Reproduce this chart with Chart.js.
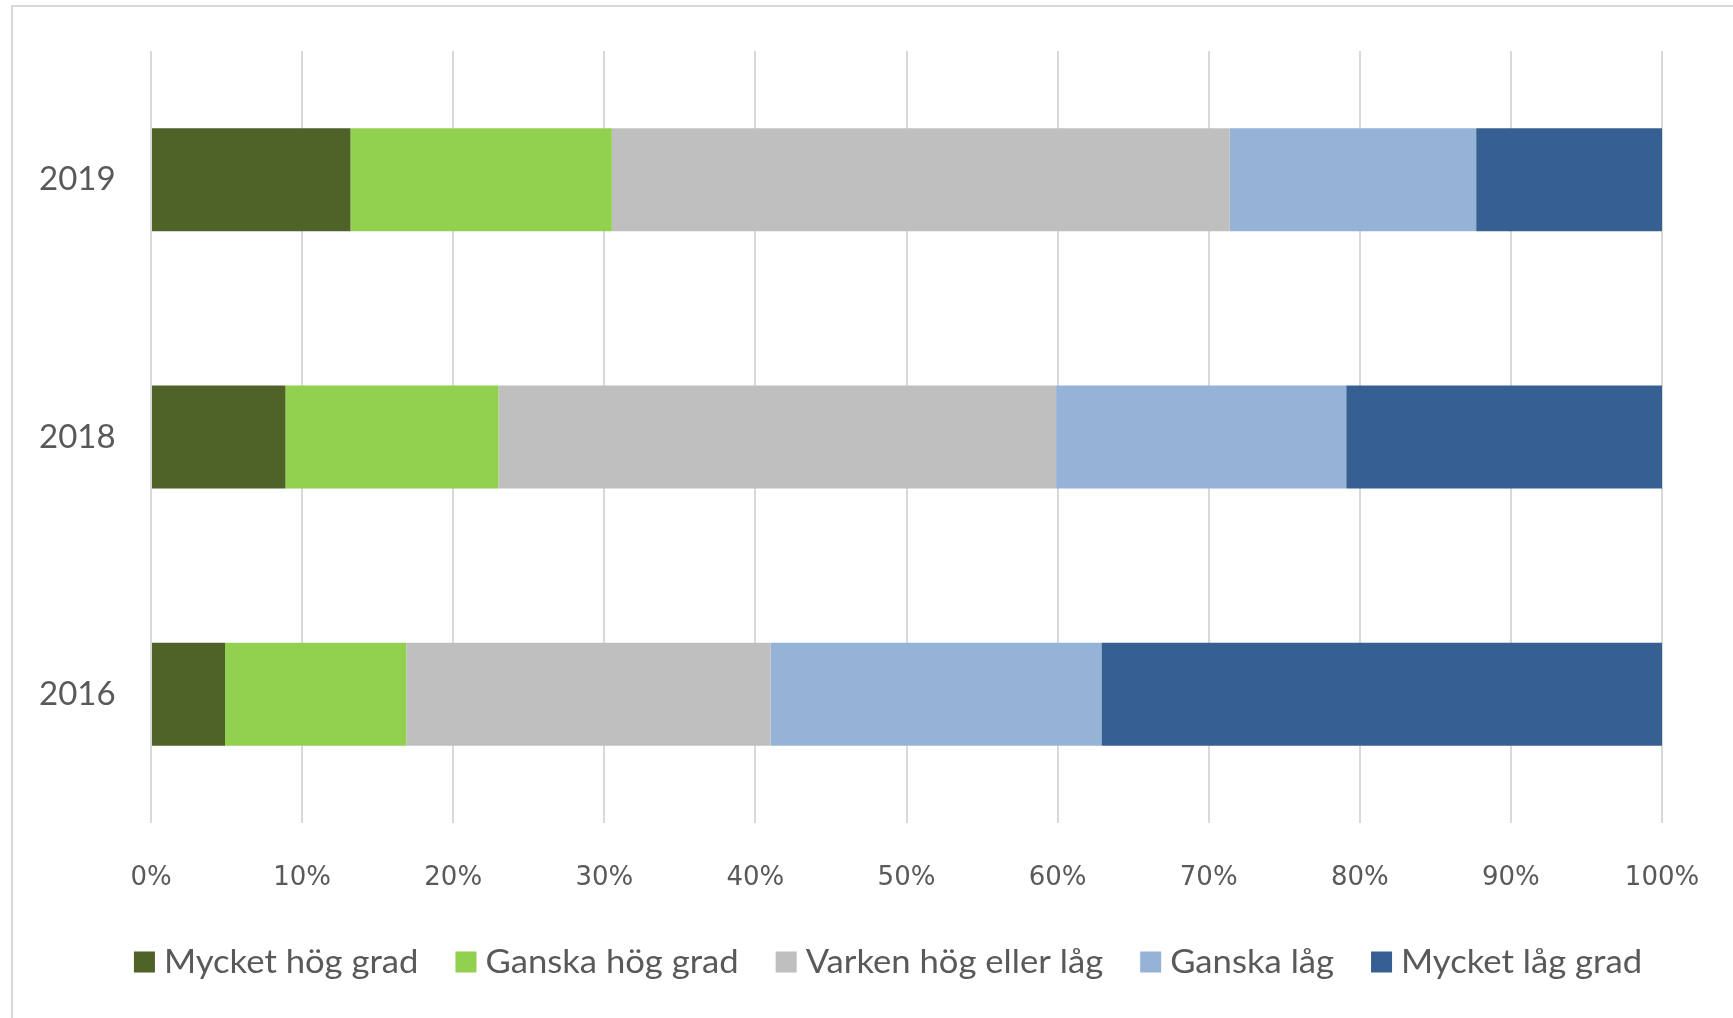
<!DOCTYPE html>
<html>
<head>
<meta charset="utf-8">
<script src="https://cdn.jsdelivr.net/npm/chart.js@4.4.1/dist/chart.umd.min.js"></script>
<style>
  html, body { margin: 0; padding: 0; background: #fff; }
  #wrap { position: relative; width: 1733px; height: 1018px; overflow: hidden; }
  #frame { position: absolute; left: 11px; top: 5px; width: 1800px; height: 1100px;
           border-left: 2px solid #d9d9d9; border-top: 2px solid #d9d9d9; }
  #chart { position: absolute; left: 0; top: 0; }
</style>
</head>
<body>
<div id="wrap">
  <div id="frame"></div>
  <canvas id="chart" width="1733" height="1018"></canvas>
</div>
<script>
// data
const years = ["2019", "2018", "2016"];
const seriesNames = ["Mycket hög grad", "Ganska hög grad", "Varken hög eller låg", "Ganska låg", "Mycket låg grad"];
const mycketHog = [13.2, 8.9, 4.9];
const ganskaHog = [17.3, 14.1, 12.0];
const varken = [40.9, 36.9, 24.1];
const ganskaLag = [16.3, 19.2, 21.9];
const mycketLag = [12.3, 20.9, 37.1];
const colors = ["#4F6228", "#92D050", "#BFBFBF", "#95B3D7", "#366092"];

const values = [mycketHog, ganskaHog, varken, ganskaLag, mycketLag];
const textColor = "#595959";

// legend in one row, a bit stretched like the original (excel look)
const bottomLegend = {
  id: "bottomLegend",
  afterDraw(chart) {
    const ctx = chart.ctx;
    const sx = 1.05, box = 21, gap = 9, space = 37;
    const cy = 962, cx = 888;
    ctx.save();
    ctx.font = "33px Lato";
    ctx.textBaseline = "middle";
    const items = chart.data.datasets.map((ds) => ({
      text: ds.label,
      color: ds.backgroundColor,
      w: ctx.measureText(ds.label).width * sx,
    }));
    let total = items.reduce((a, it) => a + box + gap + it.w, 0) + space * (items.length - 1);
    let x = cx - total / 2;
    items.forEach((it) => {
      ctx.fillStyle = it.color;
      ctx.fillRect(x, cy - box / 2, box, box);
      x += box + gap;
      ctx.save();
      ctx.translate(x, cy);
      ctx.scale(sx, 1);
      ctx.fillStyle = textColor;
      ctx.fillText(it.text, 0, 0);
      ctx.restore();
      x += it.w + space;
    });
    ctx.restore();
  },
};

document.addEventListener("DOMContentLoaded", function () {
  const ctx = document.getElementById("chart");
  new Chart(ctx, {
    type: "bar",
    data: {
      labels: years,
      datasets: seriesNames.map((name, i) => ({
        label: name,
        data: values[i],
        backgroundColor: colors[i],
        borderWidth: 0,
        categoryPercentage: 1,
        barPercentage: 0.4,
      })),
    },
    options: {
      indexAxis: "y",
      responsive: false,
      animation: false,
      layout: { padding: { top: 51, right: 71, left: 39, bottom: 109 } },
      scales: {
        x: {
          stacked: true,
          min: 0,
          max: 100,
          // invisible tick marks push the labels down without widening the side padding
          grid: { color: "#d9d9d9", lineWidth: 2, drawTicks: true, tickLength: 37, tickColor: "rgba(0,0,0,0)" },
          border: { display: false },
          ticks: {
            stepSize: 10,
            padding: 3,
            color: textColor,
            font: { family: "DejaVu Sans", size: 26 },
            callback: (v) => v + "%",
          },
          afterFit: (s) => { s.height = 86; },
        },
        y: {
          stacked: true,
          grid: { display: false, drawTicks: false },
          border: { display: false },
          ticks: {
            padding: 0,
            crossAlign: "far",
            color: textColor,
            font: { family: "Lato", size: 33 },
          },
          afterFit: (s) => { s.width = 112; },
        },
      },
      plugins: {
        legend: { display: false },
        tooltip: { enabled: false },
      },
    },
    plugins: [bottomLegend],
  });
});
</script>
</body>
</html>
